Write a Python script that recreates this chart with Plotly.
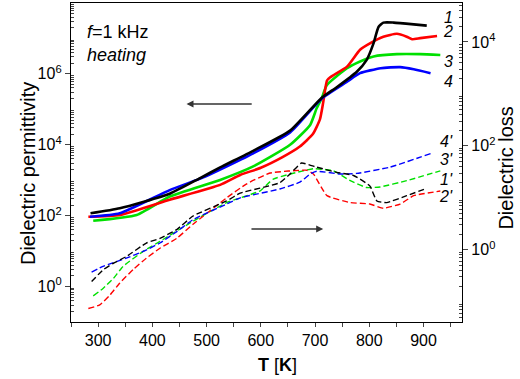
import plotly.graph_objects as go

# ---------------- data ----------------
# Solid: dielectric permittivity (left axis)
T1 = [286, 340, 432, 488, 525, 586, 654, 712, 740, 777, 795, 808, 817, 826, 845, 882, 906]
eps1 = [117, 162, 417, 1150, 2290, 6760, 25100, 2.1e5, 4.2e5, 1.15e6, 2.45e6, 7.4e6, 2.1e7, 2.8e7, 2.8e7, 2.5e7, 2.3e7]

T2 = [282, 340, 432, 525, 562, 600, 640, 672, 696, 709, 715, 722, 728, 759, 783, 802, 826, 851, 869, 879, 894, 925]
eps2 = [93, 105, 282, 741, 1410, 2240, 4470, 8900, 2.0e4, 5.2e4, 1.55e5, 6.5e5, 8.0e5, 1.6e6, 4.8e6, 7.4e6, 1.12e7, 1.35e7, 1.12e7, 9.5e6, 1.02e7, 1.17e7]

T3 = [291, 371, 432, 525, 586, 654, 691, 703, 712, 722, 759, 783, 808, 851, 894, 931]
eps3 = [72, 105, 347, 1020, 2450, 10000, 36300, 1.07e5, 2.0e5, 4.9e5, 1.45e6, 2.24e6, 3.1e6, 3.6e6, 3.6e6, 3.4e6]

T4 = [285, 340, 432, 494, 525, 586, 654, 712, 759, 783, 821, 857, 882, 913]
eps4 = [93, 117, 525, 1200, 2000, 5750, 22400, 2.0e5, 6.0e5, 1.05e6, 1.45e6, 1.55e6, 1.35e6, 1.05e6]

# Dashed: dielectric loss (right axis)
T1d = [288, 309, 328, 352, 389, 414, 445, 475, 537, 562, 635, 654, 675, 703, 740, 771, 801, 814, 832, 869, 903]
loss1 = [0.245, 0.41, 0.55, 0.74, 1.35, 1.66, 2.45, 4.47, 8.7, 12.3, 19.5, 28.8, 46.8, 38.9, 30.9, 26.9, 17, 8.7, 8.1, 11, 14.8]

T2d = [282, 303, 322, 340, 365, 389, 414, 445, 475, 537, 574, 617, 685, 697, 722, 765, 801, 826, 857, 882, 931]
loss2 = [0.074, 0.087, 0.135, 0.23, 0.42, 0.69, 1.07, 1.66, 3.1, 10, 18.6, 30, 33.9, 28.8, 11, 8.1, 7.6, 6.3, 7.6, 11, 13.5]

T3d = [291, 309, 328, 346, 383, 414, 475, 537, 598, 623, 697, 734, 765, 795, 820, 869, 931]
loss3 = [0.13, 0.18, 0.28, 0.48, 0.93, 1.45, 3.55, 8.1, 13.5, 22.9, 36.3, 33.1, 21.4, 15.8, 16.2, 21.4, 33.1]

T4d = [288, 309, 352, 383, 414, 445, 475, 537, 562, 635, 672, 691, 703, 746, 777, 838, 913]
loss4 = [0.37, 0.48, 0.69, 0.93, 1.35, 2.24, 3.8, 7.6, 10, 14.8, 20, 28.8, 32.4, 28.8, 29.5, 38.9, 70.8]

x_ticks = [300, 400, 500, 600, 700, 800, 900]
left_tick_labels = ["10<sup>0</sup>", "10<sup>2</sup>", "10<sup>4</sup>", "10<sup>6</sup>"]
right_tick_labels = ["10<sup>0</sup>", "10<sup>2</sup>", "10<sup>4</sup>"]

COLORS = {"1": "#000000", "2": "#ff0000", "3": "#00e000", "4": "#0000ff"}
FONT = "Arial, Liberation Sans, sans-serif"

fig = go.Figure()
for T, v, k in [(T3, eps3, "3"), (T2, eps2, "2"), (T4, eps4, "4"), (T1, eps1, "1")]:
    fig.add_trace(go.Scatter(x=T, y=v, mode="lines",
                             line=dict(color=COLORS[k], width=2.6, shape="spline", smoothing=0.5),
                             showlegend=False, yaxis="y"))
for T, v, k in [(T3d, loss3, "3"), (T2d, loss2, "2"), (T4d, loss4, "4"), (T1d, loss1, "1")]:
    fig.add_trace(go.Scatter(x=T, y=v, mode="lines",
                             line=dict(color=COLORS[k], width=1.4, dash="6px,3px",
                                       shape="spline", smoothing=0.4),
                             showlegend=False, yaxis="y2"))

left_minor = [m * 10 ** k for k in range(-1, 8) for m in range(2, 10)]
right_minor = [m * 10 ** k for k in range(-2, 5) for m in range(2, 10)]

fig.update_layout(
    width=520, height=379,
    margin=dict(l=71, r=58, t=3, b=57),
    paper_bgcolor="white", plot_bgcolor="white",
    font=dict(family=FONT, size=16, color="black"),
    xaxis=dict(range=[250, 971], tickvals=x_ticks, ticks="outside", ticklen=4, tickwidth=1.2,
               showline=True, linecolor="black", linewidth=1.3, mirror=True,
               showgrid=False, zeroline=False, automargin=False,
               minor=dict(tickvals=list(range(250, 1000, 50)), ticks="outside", ticklen=4,
                          tickwidth=1.2, showgrid=False),
               tickfont=dict(size=16)),
    yaxis=dict(type="log", range=[-1, 8],
               tickvals=[1, 100, 1e4, 1e6], ticktext=left_tick_labels,
               ticks="outside", ticklen=5, tickwidth=1.2,
               showline=True, linecolor="black", linewidth=1.3,
               showgrid=False, zeroline=False, automargin=False,
               minor=dict(tickvals=left_minor, ticks="inside", ticklen=3, tickwidth=1, showgrid=False),
               tickfont=dict(size=16)),
    yaxis2=dict(type="log", range=[-1.39, 4.75], overlaying="y", side="right", anchor="x",
                tickvals=[1, 100, 1e4], ticktext=right_tick_labels,
                ticks="outside", ticklen=5, tickwidth=1.2,
                showline=True, linecolor="black", linewidth=1.3,
                showgrid=False, zeroline=False, automargin=False,
                minor=dict(tickvals=right_minor, ticks="inside", ticklen=3, tickwidth=1, showgrid=False),
                tickfont=dict(size=16)),
)

ann = []
# axis titles
ann.append(dict(text="Dielectric permittivity", xref="paper", yref="paper", x=-0.11, y=0.467,
                textangle=-90, showarrow=False, font=dict(size=20), xanchor="center", yanchor="middle"))
ann.append(dict(text="Dielectric loss", xref="paper", yref="paper", x=1.1125, y=0.484,
                textangle=-90, showarrow=False, font=dict(size=20), xanchor="center", yanchor="middle"))
ann.append(dict(text="<b>T</b> [<b>K</b>]", xref="paper", yref="paper", x=0.528, y=-0.135,
                showarrow=False, font=dict(size=18), xanchor="center", yanchor="middle"))
# info text
ann.append(dict(text="<i>f</i>=1 kHz", xref="paper", yref="paper", x=0.036, y=0.91,
                showarrow=False, font=dict(size=18), xanchor="left", yanchor="middle"))
ann.append(dict(text="<i>heating</i>", xref="paper", yref="paper", x=0.036, y=0.837,
                showarrow=False, font=dict(size=18), xanchor="left", yanchor="middle"))
# curve labels
for txt, yy in [("1", 0.955), ("2", 0.91), ("3", 0.816), ("4", 0.753),
                ("4'", 0.565), ("3'", 0.508), ("1'", 0.448), ("2'", 0.393)]:
    ann.append(dict(text="<i>%s</i>" % txt, xref="paper", yref="paper", x=0.982, y=yy,
                    showarrow=False, font=dict(size=16), xanchor="right", yanchor="middle"))
# arrows
ann.append(dict(x=463, y=5.15, ax=586, ay=5.15, xref="x", yref="y", axref="x", ayref="y",
                text="", showarrow=True, arrowhead=2, arrowsize=1, arrowwidth=1.4, arrowcolor="#333333"))
ann.append(dict(x=715, y=0.40, ax=580, ay=0.40, xref="x", yref="y2", axref="x", ayref="y2",
                text="", showarrow=True, arrowhead=2, arrowsize=1, arrowwidth=1.4, arrowcolor="#333333"))
fig.update_layout(annotations=ann)

fig.write_html("out.html", config={"displayModeBar": False},
               post_script="document.body.style.margin='0';document.body.style.overflow='hidden';")
